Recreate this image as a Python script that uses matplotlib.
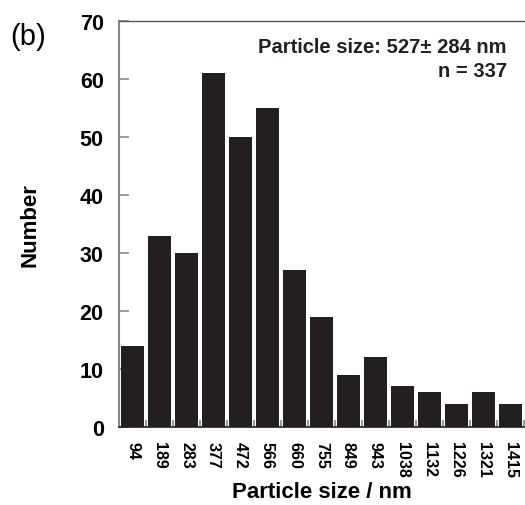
import matplotlib
matplotlib.use("Agg")
import matplotlib.pyplot as plt
import numpy as np

plt.rcParams['font.family'] = ['Liberation Sans', 'DejaVu Sans']

bin_labels = ["94", "189", "283", "377", "472", "566", "660", "755", "849", "943",
              "1038", "1132", "1226", "1321", "1415"]
counts = [14, 33, 30, 61, 50, 55, 27, 19, 9, 12, 7, 6, 4, 6, 4]
y_ticks = [0, 10, 20, 30, 40, 50, 60, 70]

fig = plt.figure(figsize=(5.25, 5.06), dpi=100)
ax = fig.add_axes([0.2267, 0.1542, 0.7713, 0.8023])

x = np.arange(len(counts)) + 0.5
ax.bar(x, counts, width=0.85, color="#231f20", edgecolor="none", zorder=2)

ax.set_xlim(0, len(counts))
ax.set_ylim(0, 70)

ax.set_yticks(y_ticks)
ax.set_yticklabels([str(v) for v in y_ticks], fontsize=15.5, fontweight='bold')
ax.tick_params(axis='y', direction='in', length=7, width=1.2, color="#888888", pad=11)

ax.set_xticks(x)
ax.set_xticklabels(bin_labels, rotation=270, fontsize=11.5, fontweight='bold')
ax.tick_params(axis='x', which='major', length=0, pad=10)
ax.set_xticks(np.arange(len(counts) + 1), minor=True)
ax.tick_params(axis='x', which='minor', direction='in', length=5, width=1.2, color="#888888")

ax.spines['right'].set_visible(False)
ax.spines['left'].set_color("#888888")
ax.spines['left'].set_linewidth(1.5)
ax.spines['top'].set_color("#555555")
ax.spines['top'].set_linewidth(1.0)
ax.spines['bottom'].set_color("#231f20")
ax.spines['bottom'].set_linewidth(1.2)

ax.set_xlabel("Particle size / nm", fontsize=16, fontweight='bold', va='center')
ax.xaxis.set_label_coords(0.5, -0.16)
ax.set_ylabel("Number", fontsize=16, fontweight='bold', va='center')
ax.yaxis.set_label_coords(-0.22, 0.5)

ax.text(0.958, 0.936, "Particle size: 527\u00b1 284 nm", transform=ax.transAxes,
        ha='right', va='center', fontsize=14.5, fontweight='bold', color="#231f20")
ax.text(0.958, 0.877, "n = 337", transform=ax.transAxes,
        ha='right', va='center', fontsize=14.5, fontweight='bold', color="#231f20")

fig.text(0.019, 0.927, "(b)", fontsize=21, ha='left', va='center')

fig.savefig("out.png", dpi=100)
